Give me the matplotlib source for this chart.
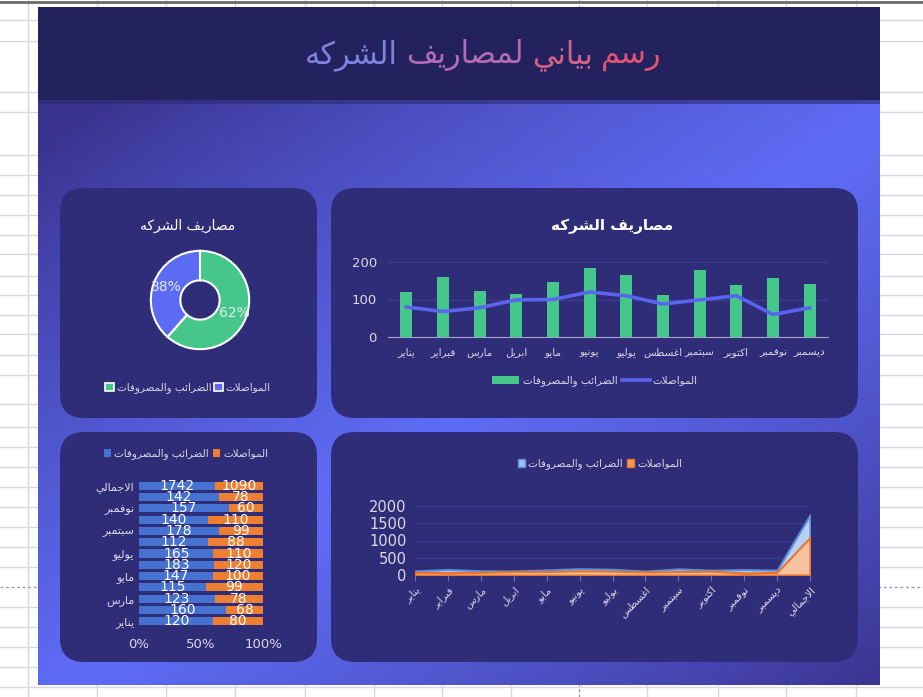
import numpy as np
import matplotlib
matplotlib.use("Agg")
from matplotlib import pyplot as plt
from matplotlib.patches import Rectangle, FancyBboxPatch, Patch
from matplotlib.lines import Line2D
from matplotlib.offsetbox import TextArea, HPacker, AnchoredOffsetbox

plt.rcParams['font.family'] = ['DejaVu Sans']

# data
months = ["يناير", "فبراير", "مارس", "ابريل", "مايو", "يونيو",
          "يوليو", "اغسطس", "سبتمبر", "اكتوبر", "نوفمبر", "ديسمبر"]
total_label = "الاجمالي"
taxes = [120, 160, 123, 115, 147, 183, 165, 112, 178, 140, 157, 142]
transport = [80, 68, 78, 99, 100, 120, 110, 88, 99, 110, 60, 78]
taxes_total = 1742
transport_total = 1090

taxes_name = "الضرائب والمصروفات"
transport_name = "المواصلات"
main_title = "رسم بياني لمصاريف الشركه"
chart_title = "مصاريف الشركه"


# matplotlib has no arabic shaping -> pick presentation forms by hand
DUAL = {'ب': 0xFE8F, 'ت': 0xFE95, 'ج': 0xFE9D, 'س': 0xFEB1, 'ش': 0xFEB5,
        'ص': 0xFEB9, 'ض': 0xFEBD, 'ط': 0xFEC1, 'غ': 0xFECD, 'ف': 0xFED1,
        'ق': 0xFED5, 'ك': 0xFED9, 'ل': 0xFEDD, 'م': 0xFEE1, 'ن': 0xFEE5,
        'ه': 0xFEE9, 'ي': 0xFEF1, 'ئ': 0xFE89, 'ع': 0xFEC9}
RIGHT = {'ا': 0xFE8D, 'د': 0xFEA9, 'ر': 0xFEAD, 'و': 0xFEED, 'ز': 0xFEAF,
         'ذ': 0xFEAB, 'ة': 0xFE93}


def shape(text):
    chars = list(text)
    n = len(chars)
    out = []
    i = 0
    while i < n:
        c = chars[i]
        conn_prev = i > 0 and chars[i - 1] in DUAL
        if c == 'ل' and i + 1 < n and chars[i + 1] == 'ا':
            out.append(chr(0xFEFC if conn_prev else 0xFEFB))
            i += 2
            continue
        if c in DUAL:
            conn_next = i + 1 < n and (chars[i + 1] in DUAL or chars[i + 1] in RIGHT)
            base = DUAL[c]
            if conn_prev and conn_next:
                out.append(chr(base + 3))
            elif conn_prev:
                out.append(chr(base + 1))
            elif conn_next:
                out.append(chr(base + 2))
            else:
                out.append(chr(base))
        elif c in RIGHT:
            out.append(chr(RIGHT[c] + 1 if conn_prev else RIGHT[c]))
        else:
            out.append(c)
        i += 1
    return ''.join(reversed(out))


W, H = 923, 697
fig = plt.figure(figsize=(W / 100, H / 100), dpi=100)
fig.patch.set_facecolor('white')


def Y(y):
    return H - y


def px_axes(x0, y0, x1, y1):
    return fig.add_axes([x0 / W, 1 - y1 / H, (x1 - x0) / W, (y1 - y0) / H])


bg = fig.add_axes([0, 0, 1, 1])
bg.axis('off')

# spreadsheet grid behind the dashboard
grid_c = '#d7d7e6'
for gx in [28, 97, 166, 235, 305, 374, 442, 511, 647, 718, 786, 856]:
    bg.plot([gx, gx], [0, H], color=grid_c, lw=1, zorder=0)
bg.plot([579, 579], [0, H], color='#9a9aa6', lw=1, ls=(0, (2, 2)), zorder=0)
for gy in [20, 41, 92, 112, 155, 175, 195, 215, 235, 254, 276, 295, 315, 334,
           355, 375, 404, 427, 447, 467, 487, 507, 527, 547, 567, 607, 627,
           647, 667, 687]:
    bg.plot([0, W], [Y(gy), Y(gy)], color=grid_c, lw=1, zorder=0)
bg.plot([0, W], [Y(587), Y(587)], color='#9a9aa6', lw=1, ls=(0, (2, 2)), zorder=0)
bg.plot([0, W], [Y(2), Y(2)], color='#6a6a6a', lw=2, zorder=0)

# dashboard body gradient
dx0, dx1, dy0, dy1 = 38, 880, 100, 685
gx, gy = np.meshgrid(np.linspace(0, 1, 421), np.linspace(0, 1, 293))
t = 0.5 * (gx + gy)
s = np.clip(1 - np.abs(t - 0.52) * 2.1, 0, 1) ** 0.8
dark = np.array([0x3a, 0x33, 0x8e]) / 255
bright = np.array([0x5e, 0x6c, 0xf6]) / 255
grad = dark + (bright - dark) * s[..., None]
bg.imshow(grad, extent=(dx0, dx1, Y(dy1), Y(dy0)), aspect='auto', zorder=1,
          interpolation='bilinear')
bg.add_patch(Rectangle((dx0, Y(dy0)), dx1 - dx0, dy0 - 7, fc='#24225e', ec='none', zorder=2))
bg.add_patch(Rectangle((dx0, Y(dy0) - 4), dx1 - dx0, 4, fc='#2c2a70', ec='none', alpha=0.6, zorder=2))

panel_c = '#302d78'
for (x0, y0, x1, y1) in [(60, 188, 317, 418), (331, 188, 858, 418),
                         (60, 432, 317, 662), (331, 432, 858, 662)]:
    bg.add_patch(FancyBboxPatch((x0, Y(y1)), x1 - x0, y1 - y0,
                                boxstyle='round,pad=0,rounding_size=24',
                                fc=panel_c, ec='none', zorder=3))
bg.set_xlim(0, W)
bg.set_ylim(0, H)

# gradient-coloured main title, one colour per word
words = main_title.split()[::-1]
title_colors = ['#7b84de', '#b26cb6', '#d4638c', '#e0566f']
kids = [TextArea(shape(w), textprops=dict(color=c, fontsize=22))
        for w, c in zip(words, title_colors)]
pack = HPacker(children=kids, align='baseline', pad=0, sep=6)
fig.add_artist(AnchoredOffsetbox(loc='center', child=pack, pad=0, borderpad=0,
                                 frameon=False, bbox_to_anchor=(483 / W, 1 - 55 / H),
                                 bbox_transform=fig.transFigure))

txt_c = '#d9d9e8'
green = '#45c68b'
line_blue = '#5964ef'
pie_blue = '#5b6cf2'
st_blue = '#4673d1'
st_orange = '#ee7f30'
gridline_c = '#3d3b8e'

# ---- bar + line chart ----
ax = px_axes(388, 262, 828, 337)
ax.set_facecolor('none')
xs = np.arange(len(months))
bars = ax.bar(xs, taxes, width=0.32, color=green, zorder=3)
ln, = ax.plot(xs, transport, color=line_blue, lw=2.6, zorder=4)
ax.set_xlim(-0.5, len(months) - 0.5)
ax.set_ylim(0, 200)
ax.set_yticks([0, 100, 200])
ax.set_xticks(xs)
ax.set_xticklabels([shape(m) for m in months], fontsize=7.5, color=txt_c)
ax.tick_params(axis='y', labelsize=9.5, labelcolor=txt_c, length=0, pad=8)
ax.tick_params(axis='x', length=0, pad=7)
ax.grid(axis='y', color=gridline_c, lw=1)
ax.set_axisbelow(True)
for sp in ['top', 'right', 'left']:
    ax.spines[sp].set_visible(False)
ax.spines['bottom'].set_color('#a4a4c8')
fig.text(612 / W, 1 - 226 / H, shape(chart_title), ha='center', va='center',
         color='white', fontsize=11, fontweight='bold')
fig.legend([Patch(fc=green), Line2D([0], [0], color=line_blue, lw=2.6)],
           [shape(taxes_name), shape(transport_name)], loc='center',
           bbox_to_anchor=(595 / W, 1 - 381 / H), ncol=2, frameon=False,
           fontsize=7.5, labelcolor=txt_c, handlelength=2.6, handleheight=0.9,
           columnspacing=0.5, handletextpad=0.3)

# ---- donut ----
ax = px_axes(140, 240, 260, 360)
wedges, _, autotexts = ax.pie([taxes_total, transport_total], colors=[green, pie_blue],
                              startangle=90, counterclock=False, autopct='%1.0f%%',
                              pctdistance=0.74,
                              wedgeprops=dict(width=0.6, edgecolor='white', linewidth=1.5),
                              textprops=dict(color='#e6e6f2', fontsize=10))
ax.set_xlim(-1.22, 1.22)
ax.set_ylim(-1.22, 1.22)
fig.text(188 / W, 1 - 226 / H, shape(chart_title), ha='center', va='center',
         color='white', fontsize=10)
fig.legend([Patch(fc=green, ec='white', lw=1.2), Patch(fc=pie_blue, ec='white', lw=1.2)],
           [shape(taxes_name), shape(transport_name)], loc='center',
           bbox_to_anchor=(188 / W, 1 - 388 / H), ncol=2, frameon=False,
           fontsize=7.5, labelcolor=txt_c, handlelength=0.8, handleheight=0.8,
           columnspacing=0.3, handletextpad=0.3)

# ---- 100% stacked bars ----
cats = months + [total_label]
tax_all = taxes + [taxes_total]
tr_all = transport + [transport_total]
tax_frac = np.array(tax_all) / (np.array(tax_all) + np.array(tr_all))
tr_frac = 1 - tax_frac
ax = px_axes(139, 480, 263, 627)
ax.set_facecolor('none')
ys = np.arange(len(cats))
b1 = ax.barh(ys, tax_frac, height=0.72, color=st_blue)
b2 = ax.barh(ys, tr_frac, left=tax_frac, height=0.72, color=st_orange)
ax.bar_label(b1, labels=[str(v) for v in tax_all], label_type='center',
             color='white', fontsize=10)
ax.bar_label(b2, labels=[str(v) for v in tr_all], label_type='center',
             color='white', fontsize=10)
ax.set_xlim(0, 1)
ax.set_ylim(-0.5, len(cats) - 0.5)
ax.set_yticks(ys[::2])
ax.set_yticklabels([shape(c) for c in cats[::2]], fontsize=8, color=txt_c)
ax.set_xticks([0, 0.5, 1])
ax.set_xticklabels(['0%', '50%', '100%'], fontsize=9.5, color=txt_c)
ax.tick_params(length=0)
ax.tick_params(axis='x', pad=8)
for sp in ax.spines.values():
    sp.set_visible(False)
fig.legend([Patch(fc=st_blue), Patch(fc=st_orange)],
           [shape(taxes_name), shape(transport_name)], loc='center',
           bbox_to_anchor=(186 / W, 1 - 454 / H), ncol=2, frameon=False,
           fontsize=7.5, labelcolor=txt_c, handlelength=0.7, handleheight=0.7,
           columnspacing=0.4, handletextpad=0.3)

# ---- area chart ----
ax = px_axes(415, 506, 810, 575)
ax.set_facecolor('none')
xa = np.arange(len(cats))
ax.fill_between(xa, tax_all, color='#b8d1f2', ec='#5b8fd8', lw=1.5, zorder=3)
ax.fill_between(xa, tr_all, color='#f6c39e', ec='#e8752c', lw=1.5, zorder=4)
ax.set_xlim(0, len(cats) - 1)
ax.set_ylim(0, 2000)
ax.set_yticks([0, 500, 1000, 1500, 2000])
ax.set_xticks(xa)
ax.set_xticklabels([shape(c) for c in cats], fontsize=7.5, color=txt_c,
                   rotation=45, ha='right', rotation_mode='anchor')
ax.tick_params(axis='y', labelsize=10.5, labelcolor=txt_c, length=0, pad=6)
ax.tick_params(axis='x', length=4, color='#6a6aa8', pad=3)
ax.grid(axis='y', color=gridline_c, lw=1)
ax.set_axisbelow(True)
for sp in ['top', 'right', 'left']:
    ax.spines[sp].set_visible(False)
ax.spines['bottom'].set_color('#6a6aa8')
fig.legend([Patch(fc='#9cc0ee', ec='#5b8fd8'), Patch(fc='#f39a5a', ec='#e8752c')],
           [shape(taxes_name), shape(transport_name)], loc='center',
           bbox_to_anchor=(600 / W, 1 - 464 / H), ncol=2, frameon=False,
           fontsize=7.5, labelcolor=txt_c, handlelength=0.7, handleheight=0.9,
           columnspacing=0.4, handletextpad=0.3)

fig.savefig('out.png', dpi=100)
